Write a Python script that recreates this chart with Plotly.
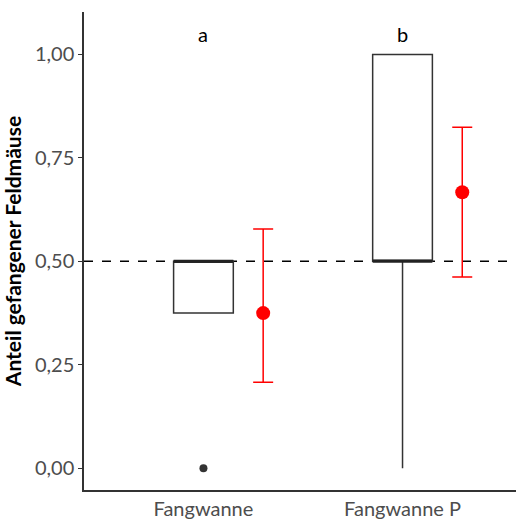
import plotly.graph_objects as go

categories = ["Fangwanne", "Fangwanne P"]
cat_pos = [1, 2]
q1 = [0.375, 0.5]
median = [0.5, 0.5]
q3 = [0.5, 1.0]
lower_whisker = [0.375, 0.0]
upper_whisker = [0.5, 1.0]
outlier_x = [1]
outlier_y = [0.0]
mean_vals = [0.375, 0.667]
ci_low = [0.208, 0.462]
ci_high = [0.578, 0.824]
letters = ["a", "b"]
letter_y = 1.05
ref_line = 0.5

FONT = "Lato, 'Open Sans', sans-serif"
BOXW = 0.3
DODGE = 0.3

fig = go.Figure()

# dashed reference line
fig.add_shape(type="line", xref="paper", x0=0, x1=1, yref="y", y0=ref_line, y1=ref_line,
              line=dict(color="black", width=1.5, dash="dash"), layer="below")

for i in range(2):
    fig.add_trace(go.Box(
        x=[cat_pos[i]], q1=[q1[i]], median=[median[i]], q3=[q3[i]],
        lowerfence=[lower_whisker[i]], upperfence=[upper_whisker[i]],
        width=BOXW, fillcolor="white", line=dict(color="#333333", width=1.5),
        boxpoints=False, showlegend=False, hoverinfo="skip", whiskerwidth=0))
    fig.add_trace(go.Scatter(
        x=[cat_pos[i] - BOXW / 2, cat_pos[i] + BOXW / 2], y=[median[i], median[i]],
        mode="lines", line=dict(color="#222222", width=3), showlegend=False, hoverinfo="skip"))

fig.add_trace(go.Scatter(x=outlier_x, y=outlier_y, mode="markers",
                         marker=dict(color="#333333", size=8), showlegend=False))

fig.add_trace(go.Scatter(
    x=[p + DODGE for p in cat_pos], y=mean_vals, mode="markers",
    marker=dict(color="#FF0000", size=14),
    error_y=dict(type="data", symmetric=False,
                 array=[h - m for h, m in zip(ci_high, mean_vals)],
                 arrayminus=[m - l for m, l in zip(mean_vals, ci_low)],
                 color="#FF0000", thickness=1.5, width=10),
    showlegend=False))

for i in range(2):
    fig.add_annotation(x=cat_pos[i], y=letter_y, text=letters[i], showarrow=False,
                       font=dict(family=FONT, size=20, color="black"))

fig.update_layout(
    width=516, height=520, margin=dict(l=84, r=0, t=12, b=30),
    plot_bgcolor="white", paper_bgcolor="white",
    font=dict(family=FONT),
    xaxis=dict(range=[0.4, 2.57], tickvals=cat_pos, ticktext=categories,
               showline=True, linecolor="#333333", linewidth=1.5, showgrid=False,
               zeroline=False, ticks="", tickfont=dict(size=20, color="#4d4d4d")),
    yaxis=dict(range=[-0.0525, 1.1025], tickvals=[0, 0.25, 0.5, 0.75, 1.0],
               ticktext=["0,00", "0,25", "0,50", "0,75", "1,00"],
               showline=True, linecolor="#333333", linewidth=1.5, showgrid=False,
               zeroline=False, ticks="outside", ticklen=4, tickcolor="#333333",
               tickfont=dict(size=20, color="#4d4d4d"),
               title=dict(text="<b>Anteil gefangener Feldmäuse</b>", standoff=8,
                          font=dict(size=21, color="black"))),
)

fig.write_html("out.html")
